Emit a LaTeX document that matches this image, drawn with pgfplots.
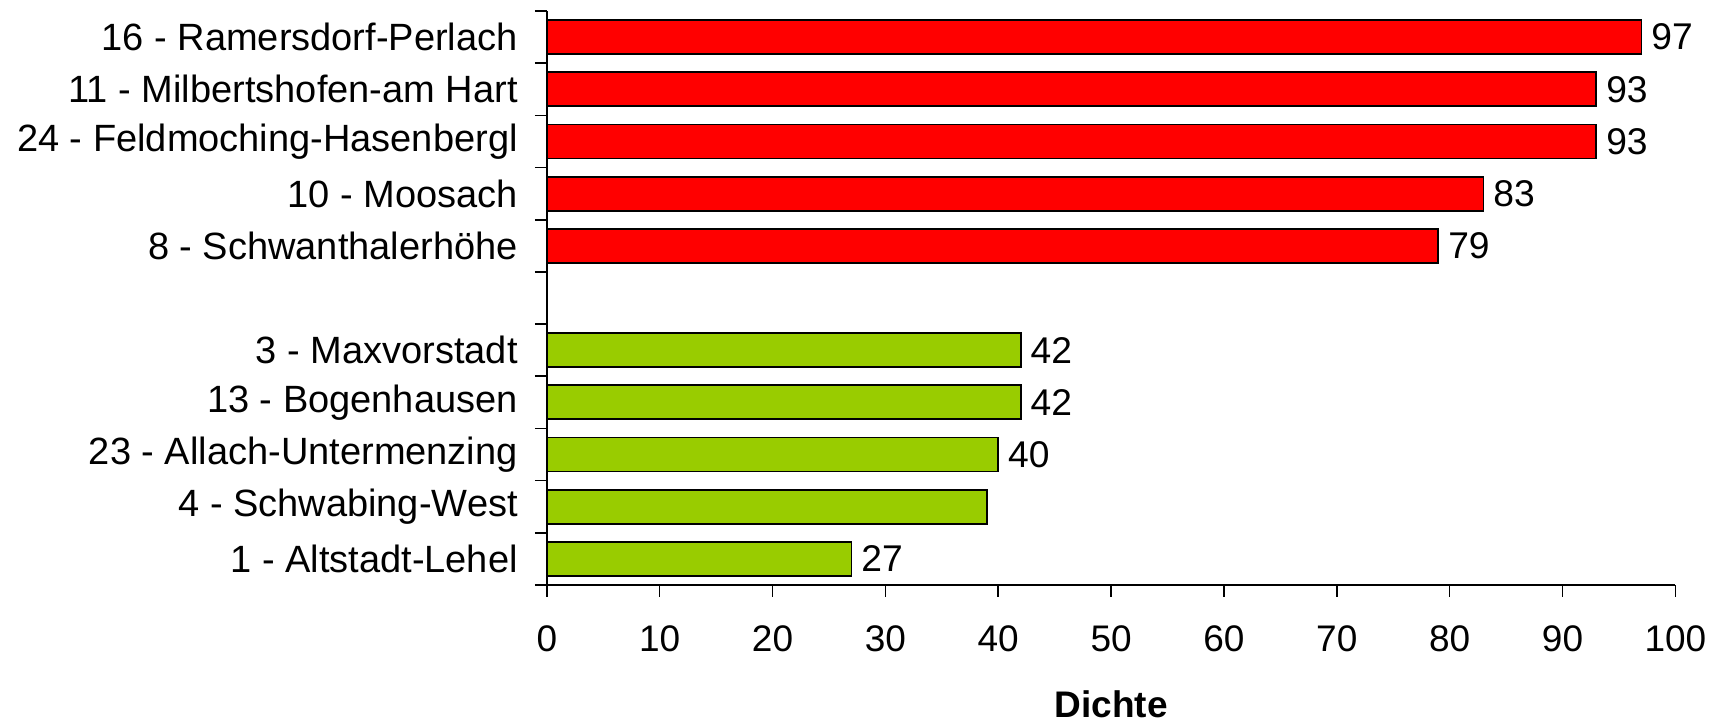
\documentclass[border=0pt]{standalone}
\usepackage{pgfplots}
\pgfplotsset{compat=1.18}
\usepackage{fontspec}
\setmainfont{Liberation Sans}
\definecolor{barred}{HTML}{FF0000}
\definecolor{bargreen}{HTML}{99CC00}
\begin{document}
\begin{tikzpicture}
\useasboundingbox (-273.4pt,-68pt) rectangle (586.6pt,292.5pt);
\begin{axis}[
  at={(0pt,0pt)}, anchor=south west,
  scale only axis,
  width=564.3pt, height=287pt,
  xmin=0, xmax=100,
  ymin=-0.5, ymax=10.5,
  axis x line*=bottom, axis y line*=left,
  axis line style={line width=0.8pt, -},
  every tick/.style={black, line width=0.8pt},
  tick align=outside,
  major tick length=6pt,
  xtick={0,10,...,100},
  ytick={-0.5,0.5,1.5,2.5,3.5,4.5,5.5,6.5,7.5,8.5,9.5,10.5},
  y tick label as interval,
  yticklabels={1 - Altstadt-Lehel, 4 - Schwabing-West, 23 - Allach-Untermenzing, 13 - Bogenhausen, 3 - Maxvorstadt, {}, 8 - Schwanthalerhöhe, 10 - Moosach, 24 - Feldmoching-Hasenbergl, 11 - Milbertshofen-am Hart, 16 - Ramersdorf-Perlach},
  /pgf/number format/assume math mode=true,
  xticklabel style={font=\fontsize{18.5}{22}\selectfont, yshift=-11pt},
  yticklabel style={font=\fontsize{19}{22}\selectfont, xshift=-5pt},
  xlabel={Dichte},
  xlabel style={font=\fontsize{18.5}{22}\selectfont\bfseries, at={(rel axis cs:0.5,0)}, anchor=center, yshift=-59.5pt, inner sep=0pt},
  nodes near coords align=horizontal,
  nodes near coords style={font=\fontsize{18.6}{22}\selectfont, black, anchor=west, inner sep=4.5pt},
  clip=false,
]
\addplot[xbar, bar width=17pt, bar shift=0pt, fill=barred, draw=black, line width=0.9pt,
  nodes near coords, point meta=explicit symbolic]
  coordinates {(79,6)[79] (83,7)[83] (93,8)[93] (93,9)[93] (97,10)[97]};
\addplot[xbar, bar width=17pt, bar shift=0pt, fill=bargreen, draw=black, line width=0.9pt,
  nodes near coords, point meta=explicit symbolic]
  coordinates {(27,0)[27] (39,1)[] (40,2)[40] (42,3)[42] (42,4)[42]};
\end{axis}
\end{tikzpicture}
\end{document}
